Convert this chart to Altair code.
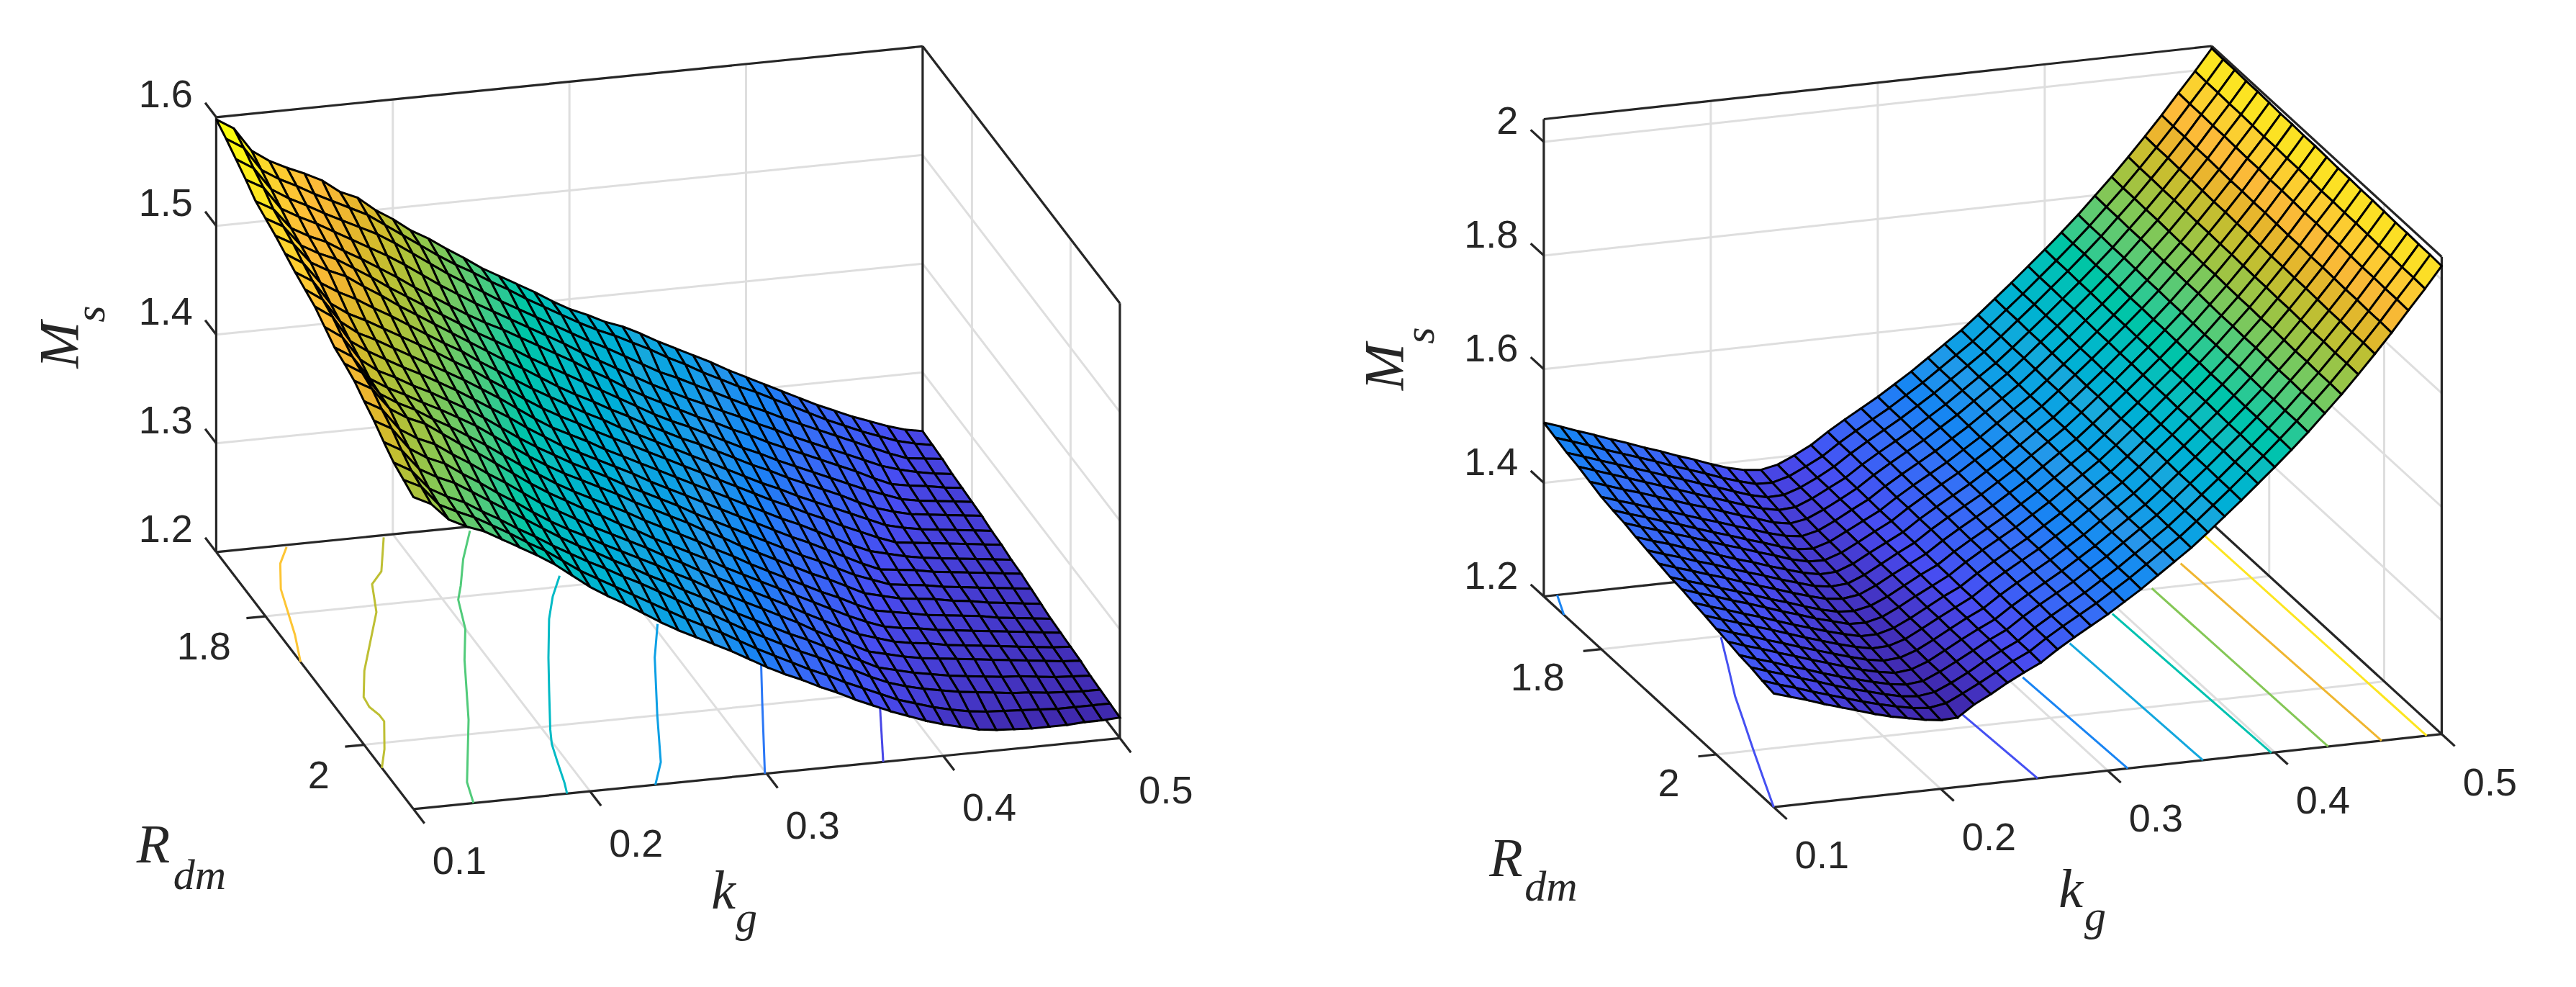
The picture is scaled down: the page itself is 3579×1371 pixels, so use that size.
import altair as alt
import pandas as pd

kg_grid = [0.10, 0.11, 0.12, 0.13, 0.14, 0.15, 0.16, 0.17, 0.18, 0.19, 0.20,
           0.21, 0.22, 0.23, 0.24, 0.25, 0.26, 0.27, 0.28, 0.29, 0.30,
           0.31, 0.32, 0.33, 0.34, 0.35, 0.36, 0.37, 0.38, 0.39, 0.40,
           0.41, 0.42, 0.43, 0.44, 0.45, 0.46, 0.47, 0.48, 0.49, 0.50]
rdm_grid = [1.70, 1.72, 1.74, 1.76, 1.78, 1.80, 1.82, 1.84, 1.86, 1.88, 1.90,
            1.92, 1.94, 1.96, 1.98, 2.00, 2.02, 2.04, 2.06, 2.08, 2.10]

# one row per Rdm, one column per kg
ms_left = [
    [1.598, 1.588, 1.566, 1.555, 1.547, 1.540, 1.532, 1.520, 1.513, 1.500, 1.490, 1.478, 1.469, 1.458, 1.448, 1.437, 1.428, 1.419, 1.410, 1.400, 1.391, 1.384, 1.376, 1.370, 1.362, 1.353, 1.345, 1.337, 1.329, 1.320, 1.312, 1.304, 1.296, 1.288, 1.280, 1.273, 1.266, 1.260, 1.254, 1.249, 1.246],
    [1.592, 1.582, 1.560, 1.550, 1.542, 1.533, 1.525, 1.517, 1.509, 1.498, 1.487, 1.476, 1.465, 1.455, 1.446, 1.436, 1.427, 1.417, 1.408, 1.399, 1.390, 1.382, 1.375, 1.367, 1.359, 1.350, 1.342, 1.333, 1.325, 1.317, 1.310, 1.302, 1.294, 1.286, 1.278, 1.271, 1.264, 1.258, 1.252, 1.248, 1.245],
    [1.585, 1.575, 1.554, 1.544, 1.536, 1.527, 1.519, 1.511, 1.503, 1.493, 1.482, 1.471, 1.460, 1.450, 1.440, 1.430, 1.421, 1.412, 1.403, 1.394, 1.385, 1.377, 1.368, 1.359, 1.350, 1.343, 1.335, 1.327, 1.319, 1.311, 1.304, 1.296, 1.289, 1.282, 1.275, 1.268, 1.261, 1.254, 1.248, 1.246, 1.244],
    [1.578, 1.569, 1.548, 1.539, 1.531, 1.522, 1.513, 1.504, 1.495, 1.485, 1.474, 1.463, 1.453, 1.443, 1.434, 1.425, 1.416, 1.407, 1.398, 1.388, 1.379, 1.370, 1.361, 1.352, 1.344, 1.336, 1.329, 1.321, 1.314, 1.306, 1.299, 1.291, 1.284, 1.277, 1.270, 1.263, 1.256, 1.251, 1.247, 1.244, 1.242],
    [1.570, 1.561, 1.542, 1.533, 1.526, 1.516, 1.507, 1.497, 1.487, 1.476, 1.466, 1.456, 1.446, 1.437, 1.429, 1.420, 1.411, 1.402, 1.393, 1.383, 1.374, 1.364, 1.355, 1.347, 1.339, 1.331, 1.324, 1.316, 1.309, 1.301, 1.294, 1.287, 1.280, 1.273, 1.266, 1.258, 1.251, 1.248, 1.246, 1.243, 1.241],
    [1.566, 1.557, 1.538, 1.529, 1.522, 1.512, 1.502, 1.491, 1.481, 1.471, 1.461, 1.451, 1.441, 1.432, 1.423, 1.413, 1.404, 1.395, 1.386, 1.377, 1.368, 1.359, 1.350, 1.342, 1.335, 1.327, 1.319, 1.311, 1.304, 1.296, 1.289, 1.282, 1.275, 1.268, 1.261, 1.255, 1.249, 1.246, 1.244, 1.242, 1.240],
    [1.562, 1.553, 1.534, 1.525, 1.518, 1.507, 1.497, 1.486, 1.476, 1.466, 1.456, 1.446, 1.436, 1.426, 1.417, 1.407, 1.397, 1.388, 1.380, 1.371, 1.363, 1.354, 1.346, 1.338, 1.331, 1.323, 1.315, 1.307, 1.300, 1.292, 1.285, 1.278, 1.271, 1.263, 1.256, 1.251, 1.247, 1.245, 1.243, 1.241, 1.239],
    [1.557, 1.547, 1.527, 1.517, 1.509, 1.499, 1.490, 1.480, 1.470, 1.460, 1.451, 1.440, 1.430, 1.420, 1.410, 1.401, 1.392, 1.383, 1.375, 1.366, 1.358, 1.350, 1.342, 1.334, 1.326, 1.318, 1.310, 1.302, 1.295, 1.287, 1.280, 1.273, 1.266, 1.259, 1.252, 1.248, 1.245, 1.243, 1.241, 1.239, 1.237],
    [1.552, 1.542, 1.520, 1.509, 1.501, 1.492, 1.483, 1.474, 1.465, 1.455, 1.446, 1.435, 1.425, 1.414, 1.404, 1.395, 1.387, 1.378, 1.370, 1.362, 1.354, 1.346, 1.338, 1.330, 1.322, 1.314, 1.306, 1.298, 1.291, 1.283, 1.276, 1.268, 1.261, 1.254, 1.248, 1.246, 1.244, 1.242, 1.240, 1.238, 1.236],
    [1.548, 1.537, 1.515, 1.503, 1.495, 1.486, 1.477, 1.468, 1.459, 1.450, 1.440, 1.430, 1.419, 1.408, 1.398, 1.390, 1.382, 1.373, 1.365, 1.357, 1.349, 1.341, 1.333, 1.325, 1.317, 1.309, 1.301, 1.293, 1.286, 1.278, 1.270, 1.262, 1.255, 1.251, 1.247, 1.244, 1.242, 1.240, 1.238, 1.236, 1.234],
    [1.544, 1.533, 1.509, 1.498, 1.489, 1.480, 1.472, 1.463, 1.454, 1.444, 1.434, 1.424, 1.413, 1.403, 1.393, 1.385, 1.377, 1.369, 1.361, 1.352, 1.344, 1.336, 1.328, 1.320, 1.312, 1.304, 1.296, 1.288, 1.281, 1.273, 1.265, 1.257, 1.250, 1.248, 1.246, 1.243, 1.241, 1.239, 1.237, 1.235, 1.233],
    [1.537, 1.526, 1.504, 1.492, 1.484, 1.475, 1.467, 1.458, 1.449, 1.439, 1.428, 1.417, 1.407, 1.398, 1.389, 1.381, 1.373, 1.364, 1.356, 1.348, 1.340, 1.331, 1.323, 1.315, 1.307, 1.299, 1.291, 1.283, 1.276, 1.268, 1.260, 1.254, 1.248, 1.246, 1.244, 1.241, 1.239, 1.237, 1.235, 1.233, 1.231],
    [1.530, 1.520, 1.498, 1.488, 1.480, 1.471, 1.463, 1.454, 1.445, 1.434, 1.423, 1.412, 1.402, 1.393, 1.385, 1.377, 1.369, 1.360, 1.352, 1.344, 1.336, 1.327, 1.319, 1.310, 1.302, 1.294, 1.286, 1.278, 1.271, 1.263, 1.255, 1.251, 1.247, 1.245, 1.243, 1.240, 1.238, 1.235, 1.233, 1.231, 1.229],
    [1.527, 1.517, 1.496, 1.486, 1.478, 1.468, 1.459, 1.449, 1.439, 1.428, 1.417, 1.407, 1.397, 1.388, 1.380, 1.372, 1.364, 1.355, 1.347, 1.339, 1.331, 1.322, 1.314, 1.305, 1.297, 1.289, 1.281, 1.273, 1.266, 1.258, 1.251, 1.248, 1.245, 1.242, 1.240, 1.238, 1.236, 1.233, 1.231, 1.229, 1.227],
    [1.523, 1.514, 1.494, 1.484, 1.477, 1.466, 1.455, 1.445, 1.434, 1.423, 1.412, 1.402, 1.393, 1.384, 1.376, 1.367, 1.359, 1.350, 1.342, 1.334, 1.326, 1.317, 1.309, 1.301, 1.293, 1.285, 1.277, 1.269, 1.261, 1.254, 1.248, 1.245, 1.243, 1.240, 1.238, 1.236, 1.234, 1.232, 1.230, 1.228, 1.226],
    [1.516, 1.507, 1.487, 1.477, 1.470, 1.459, 1.449, 1.438, 1.428, 1.417, 1.406, 1.397, 1.388, 1.379, 1.371, 1.363, 1.355, 1.346, 1.338, 1.329, 1.321, 1.313, 1.305, 1.297, 1.289, 1.280, 1.272, 1.264, 1.256, 1.251, 1.246, 1.243, 1.241, 1.238, 1.236, 1.234, 1.232, 1.230, 1.228, 1.226, 1.225],
    [1.510, 1.501, 1.481, 1.471, 1.464, 1.453, 1.443, 1.432, 1.422, 1.411, 1.401, 1.392, 1.384, 1.375, 1.367, 1.359, 1.351, 1.342, 1.334, 1.325, 1.317, 1.309, 1.301, 1.293, 1.285, 1.276, 1.268, 1.260, 1.252, 1.248, 1.244, 1.241, 1.239, 1.237, 1.235, 1.233, 1.231, 1.229, 1.227, 1.225, 1.224],
    [1.502, 1.493, 1.474, 1.465, 1.458, 1.448, 1.438, 1.428, 1.418, 1.408, 1.398, 1.389, 1.381, 1.372, 1.364, 1.355, 1.347, 1.338, 1.330, 1.321, 1.312, 1.304, 1.296, 1.288, 1.281, 1.273, 1.265, 1.257, 1.249, 1.245, 1.241, 1.238, 1.235, 1.233, 1.231, 1.229, 1.228, 1.226, 1.224, 1.223, 1.222],
    [1.495, 1.486, 1.468, 1.459, 1.452, 1.442, 1.433, 1.423, 1.414, 1.404, 1.395, 1.386, 1.378, 1.369, 1.361, 1.352, 1.343, 1.334, 1.326, 1.317, 1.308, 1.300, 1.292, 1.284, 1.277, 1.269, 1.262, 1.254, 1.247, 1.242, 1.238, 1.235, 1.232, 1.230, 1.228, 1.226, 1.225, 1.223, 1.222, 1.221, 1.221],
    [1.491, 1.483, 1.465, 1.457, 1.450, 1.441, 1.432, 1.422, 1.413, 1.402, 1.391, 1.382, 1.373, 1.364, 1.355, 1.346, 1.337, 1.329, 1.321, 1.312, 1.303, 1.295, 1.287, 1.279, 1.272, 1.264, 1.257, 1.250, 1.243, 1.238, 1.233, 1.229, 1.226, 1.224, 1.223, 1.222, 1.221, 1.220, 1.220, 1.220, 1.220],
    [1.487, 1.479, 1.463, 1.455, 1.449, 1.440, 1.431, 1.422, 1.412, 1.400, 1.388, 1.378, 1.369, 1.359, 1.349, 1.340, 1.332, 1.324, 1.316, 1.307, 1.298, 1.290, 1.283, 1.275, 1.268, 1.260, 1.253, 1.246, 1.240, 1.234, 1.229, 1.225, 1.221, 1.219, 1.218, 1.217, 1.217, 1.217, 1.218, 1.218, 1.219],
]

ms_right = [
    [1.506, 1.496, 1.485, 1.475, 1.464, 1.454, 1.443, 1.433, 1.422, 1.412, 1.401, 1.391, 1.384, 1.381, 1.387, 1.400, 1.415, 1.435, 1.453, 1.470, 1.487, 1.506, 1.525, 1.546, 1.567, 1.588, 1.612, 1.637, 1.662, 1.688, 1.714, 1.741, 1.769, 1.799, 1.829, 1.861, 1.894, 1.928, 1.964, 1.999, 2.036],
    [1.498, 1.488, 1.478, 1.467, 1.457, 1.447, 1.437, 1.426, 1.416, 1.406, 1.395, 1.386, 1.378, 1.377, 1.385, 1.399, 1.414, 1.434, 1.452, 1.469, 1.486, 1.505, 1.524, 1.545, 1.566, 1.587, 1.611, 1.636, 1.661, 1.687, 1.713, 1.740, 1.768, 1.798, 1.828, 1.860, 1.893, 1.927, 1.963, 1.998, 2.035],
    [1.490, 1.480, 1.470, 1.460, 1.450, 1.440, 1.430, 1.420, 1.410, 1.400, 1.390, 1.380, 1.373, 1.374, 1.384, 1.398, 1.414, 1.434, 1.452, 1.469, 1.486, 1.505, 1.524, 1.545, 1.566, 1.587, 1.611, 1.636, 1.661, 1.687, 1.713, 1.740, 1.768, 1.798, 1.828, 1.860, 1.893, 1.927, 1.963, 1.998, 2.035],
    [1.484, 1.474, 1.464, 1.454, 1.444, 1.434, 1.424, 1.414, 1.404, 1.394, 1.384, 1.375, 1.369, 1.371, 1.383, 1.398, 1.413, 1.433, 1.451, 1.468, 1.485, 1.504, 1.523, 1.544, 1.565, 1.586, 1.610, 1.635, 1.660, 1.686, 1.712, 1.739, 1.767, 1.797, 1.827, 1.859, 1.892, 1.926, 1.962, 1.997, 2.034],
    [1.476, 1.466, 1.456, 1.447, 1.437, 1.427, 1.417, 1.408, 1.398, 1.388, 1.379, 1.369, 1.364, 1.369, 1.382, 1.397, 1.413, 1.433, 1.451, 1.468, 1.485, 1.504, 1.523, 1.544, 1.565, 1.586, 1.610, 1.635, 1.660, 1.686, 1.712, 1.739, 1.767, 1.797, 1.827, 1.859, 1.892, 1.926, 1.962, 1.997, 2.034],
    [1.468, 1.458, 1.449, 1.439, 1.430, 1.420, 1.410, 1.401, 1.391, 1.382, 1.372, 1.364, 1.360, 1.367, 1.381, 1.397, 1.412, 1.432, 1.450, 1.467, 1.484, 1.503, 1.522, 1.543, 1.564, 1.585, 1.609, 1.634, 1.659, 1.685, 1.711, 1.738, 1.766, 1.796, 1.826, 1.858, 1.891, 1.925, 1.961, 1.996, 2.033],
    [1.463, 1.453, 1.444, 1.434, 1.425, 1.415, 1.405, 1.396, 1.386, 1.377, 1.367, 1.359, 1.357, 1.366, 1.381, 1.396, 1.411, 1.431, 1.449, 1.466, 1.483, 1.502, 1.521, 1.542, 1.563, 1.584, 1.608, 1.633, 1.658, 1.684, 1.710, 1.737, 1.765, 1.795, 1.825, 1.857, 1.890, 1.924, 1.960, 1.995, 2.032],
    [1.459, 1.449, 1.440, 1.430, 1.421, 1.411, 1.401, 1.392, 1.382, 1.373, 1.363, 1.356, 1.355, 1.365, 1.380, 1.396, 1.411, 1.431, 1.449, 1.466, 1.483, 1.502, 1.521, 1.542, 1.563, 1.584, 1.608, 1.633, 1.658, 1.684, 1.710, 1.737, 1.765, 1.795, 1.825, 1.857, 1.890, 1.924, 1.960, 1.995, 2.032],
    [1.453, 1.443, 1.434, 1.424, 1.415, 1.405, 1.395, 1.386, 1.376, 1.367, 1.358, 1.352, 1.353, 1.364, 1.380, 1.395, 1.410, 1.430, 1.448, 1.465, 1.482, 1.501, 1.520, 1.541, 1.562, 1.583, 1.607, 1.632, 1.657, 1.683, 1.709, 1.736, 1.764, 1.794, 1.824, 1.856, 1.889, 1.923, 1.959, 1.994, 2.031],
    [1.448, 1.438, 1.429, 1.419, 1.410, 1.400, 1.390, 1.381, 1.371, 1.362, 1.353, 1.349, 1.351, 1.363, 1.379, 1.395, 1.410, 1.430, 1.448, 1.465, 1.482, 1.501, 1.520, 1.541, 1.562, 1.583, 1.607, 1.632, 1.657, 1.683, 1.709, 1.736, 1.764, 1.794, 1.824, 1.856, 1.889, 1.923, 1.959, 1.994, 2.031],
    [1.443, 1.433, 1.424, 1.414, 1.405, 1.395, 1.385, 1.376, 1.366, 1.357, 1.349, 1.346, 1.350, 1.363, 1.379, 1.394, 1.409, 1.429, 1.447, 1.464, 1.481, 1.500, 1.519, 1.540, 1.561, 1.582, 1.606, 1.631, 1.656, 1.682, 1.708, 1.735, 1.763, 1.793, 1.823, 1.855, 1.888, 1.922, 1.958, 1.993, 2.030],
    [1.438, 1.428, 1.419, 1.409, 1.400, 1.390, 1.380, 1.371, 1.361, 1.352, 1.345, 1.343, 1.349, 1.362, 1.378, 1.394, 1.408, 1.428, 1.446, 1.463, 1.480, 1.499, 1.518, 1.539, 1.560, 1.581, 1.605, 1.630, 1.655, 1.681, 1.707, 1.734, 1.762, 1.792, 1.822, 1.854, 1.887, 1.921, 1.957, 1.992, 2.029],
    [1.435, 1.425, 1.416, 1.406, 1.397, 1.387, 1.377, 1.368, 1.358, 1.350, 1.342, 1.341, 1.348, 1.362, 1.378, 1.393, 1.408, 1.428, 1.446, 1.463, 1.480, 1.499, 1.518, 1.539, 1.560, 1.581, 1.605, 1.630, 1.655, 1.681, 1.707, 1.734, 1.762, 1.792, 1.822, 1.854, 1.887, 1.921, 1.957, 1.992, 2.029],
    [1.430, 1.420, 1.411, 1.401, 1.392, 1.382, 1.372, 1.363, 1.354, 1.346, 1.339, 1.339, 1.347, 1.361, 1.377, 1.393, 1.407, 1.427, 1.445, 1.462, 1.479, 1.498, 1.517, 1.538, 1.559, 1.580, 1.604, 1.629, 1.654, 1.680, 1.706, 1.733, 1.761, 1.791, 1.821, 1.853, 1.886, 1.920, 1.956, 1.991, 2.028],
    [1.426, 1.416, 1.407, 1.397, 1.388, 1.378, 1.368, 1.359, 1.350, 1.342, 1.336, 1.337, 1.346, 1.361, 1.377, 1.392, 1.407, 1.427, 1.445, 1.462, 1.479, 1.498, 1.517, 1.538, 1.559, 1.580, 1.604, 1.629, 1.654, 1.680, 1.706, 1.733, 1.761, 1.791, 1.821, 1.853, 1.886, 1.920, 1.956, 1.991, 2.028],
    [1.421, 1.411, 1.402, 1.392, 1.383, 1.373, 1.364, 1.355, 1.346, 1.338, 1.333, 1.335, 1.345, 1.360, 1.376, 1.392, 1.406, 1.426, 1.444, 1.461, 1.478, 1.497, 1.516, 1.537, 1.558, 1.579, 1.603, 1.628, 1.653, 1.679, 1.705, 1.732, 1.760, 1.790, 1.820, 1.852, 1.885, 1.919, 1.955, 1.990, 2.027],
    [1.417, 1.407, 1.398, 1.388, 1.379, 1.369, 1.360, 1.351, 1.342, 1.335, 1.330, 1.333, 1.344, 1.360, 1.376, 1.391, 1.405, 1.425, 1.443, 1.460, 1.477, 1.496, 1.515, 1.536, 1.557, 1.578, 1.602, 1.627, 1.652, 1.678, 1.704, 1.731, 1.759, 1.789, 1.819, 1.851, 1.884, 1.918, 1.954, 1.989, 2.026],
    [1.412, 1.402, 1.393, 1.383, 1.374, 1.364, 1.355, 1.347, 1.339, 1.332, 1.328, 1.331, 1.344, 1.359, 1.375, 1.391, 1.405, 1.425, 1.443, 1.460, 1.477, 1.496, 1.515, 1.536, 1.557, 1.578, 1.602, 1.627, 1.652, 1.678, 1.704, 1.731, 1.759, 1.789, 1.819, 1.851, 1.884, 1.918, 1.954, 1.989, 2.026],
    [1.409, 1.399, 1.390, 1.380, 1.371, 1.361, 1.352, 1.344, 1.336, 1.329, 1.326, 1.330, 1.343, 1.358, 1.375, 1.390, 1.404, 1.424, 1.442, 1.459, 1.476, 1.495, 1.514, 1.535, 1.556, 1.577, 1.601, 1.626, 1.651, 1.677, 1.703, 1.730, 1.758, 1.788, 1.818, 1.850, 1.883, 1.917, 1.953, 1.988, 2.025],
    [1.404, 1.394, 1.385, 1.375, 1.366, 1.357, 1.348, 1.340, 1.333, 1.327, 1.324, 1.329, 1.343, 1.358, 1.374, 1.390, 1.404, 1.424, 1.442, 1.459, 1.476, 1.495, 1.514, 1.535, 1.556, 1.577, 1.601, 1.626, 1.651, 1.677, 1.703, 1.730, 1.758, 1.788, 1.818, 1.850, 1.883, 1.917, 1.953, 1.988, 2.025],
    [1.400, 1.391, 1.382, 1.372, 1.363, 1.354, 1.345, 1.337, 1.331, 1.325, 1.321, 1.322, 1.342, 1.357, 1.374, 1.389, 1.403, 1.423, 1.441, 1.458, 1.475, 1.494, 1.513, 1.534, 1.555, 1.576, 1.600, 1.625, 1.650, 1.676, 1.702, 1.729, 1.757, 1.787, 1.817, 1.849, 1.882, 1.916, 1.952, 1.987, 2.024],
]

# floor contours: level, kg points, Rdm points
contours_left = [
    (1.55, [.139, .129, .119, .108, .100], [1.703, 1.726, 1.763, 1.831, 1.871]),
    (1.50, [.194, .179, .169, .160, .130, .119, .118, .120, .120, .109, .100],
     [1.703, 1.752, 1.769, 1.810, 1.893, 1.931, 1.946, 1.959, 1.969, 2.009, 2.036]),
    (1.45, [.242, .227, .215, .208, .200, .187, .165, .139, .134],
     [1.706, 1.746, 1.784, 1.804, 1.847, 1.892, 1.979, 2.069, 2.100]),
    (1.40, [.271, .259, .248, .232, .219, .204, .199, .195, .190, .187],
     [1.784, 1.813, 1.845, 1.901, 1.949, 2.005, 2.026, 2.051, 2.084, 2.100]),
    (1.35, [.303, .288, .266, .249, .237], [1.868, 1.916, 2.000, 2.068, 2.100]),
    (1.30, [.341, .326, .299], [1.942, 1.998, 2.100]),
    (1.25, [.386, .366], [2.022, 2.100]),
]
contours_right = [
    (1.50, [.108, .100], [1.700, 1.735]),
    (1.40, [.171, .158, .144, .134, .123, .112, .100],
     [1.802, 1.852, 1.905, 1.949, 1.997, 2.046, 2.100]),
    (1.40, [.255, .258], [1.978, 2.100]),
    (1.50, [.309, .312], [1.926, 2.100]),
    (1.60, [.354, .357], [1.877, 2.100]),
    (1.70, [.394, .398], [1.835, 2.100]),
    (1.80, [.430, .432], [1.799, 2.100]),
    (1.90, [.460, .464], [1.762, 2.100]),
    (2.00, [.489, .491], [1.718, 2.100]),
]

kg_ticks = [0.1, 0.2, 0.3, 0.4, 0.5]
rdm_ticks = [1.8, 2.0]
rdm_labels = ["1.8", "2"]
ms_ticks_left = [1.2, 1.3, 1.4, 1.5, 1.6]
ms_labels_left = ["1.2", "1.3", "1.4", "1.5", "1.6"]
ms_ticks_right = [1.2, 1.4, 1.6, 1.8, 2.0]
ms_labels_right = ["1.2", "1.4", "1.6", "1.8", "2"]

parula_pos = [0, .1, .2, .3, .4, .5, .6, .7, .8, .85, .9, 1]
parula_stops = ["#3E26A8", "#484CF1", "#366FF6", "#2796EB", "#18A9DC", "#0EBDBE",
                "#45CB82", "#9CC445", "#EBB52E", "#FDBB39", "#FBD12F", "#F9FB0E"]
parula = alt.Scale(domain=parula_pos, range=parula_stops)

# screen geometry of the two 3D boxes
view_left = dict(origin=(300.4, 766.8), ex=(981.5, -98.5), ey=(274.0, 357.0),
                 height=604.0, zmin=1.2, zmax=1.6, z_off=(-32.5, -29.5), r_off=(-48, 44),
                 k_off=(64, 74.5), tick_z=0.056, tick_r=0.027, tick_k=0.056)
view_right = dict(origin=(2144.9, 828.5), ex=(928.0, -101.5), ey=(319.5, 292.7),
                  height=663.0, zmin=1.2, zmax=2.04, z_off=(-35.5, -27), r_off=(-51, 41.5),
                  k_off=(67, 69), tick_z=0.057, tick_r=0.027, tick_k=0.057)


def project(view, kg, rdm, ms):
    f = (kg - 0.1) / 0.4
    g = (rdm - 1.7) / 0.4
    h = (ms - view["zmin"]) / (view["zmax"] - view["zmin"])
    return (
        view["origin"][0] + f * view["ex"][0] + g * view["ey"][0],
        view["origin"][1] + f * view["ex"][1] + g * view["ey"][1] - h * view["height"],
    )


def surface_rows(view, table, prefix):
    lo = min(min(row) for row in table)
    hi = max(max(row) for row in table)
    cells = []
    for j in range(len(rdm_grid) - 1):
        for i in range(len(kg_grid) - 1):
            depth = project(view, kg_grid[i], rdm_grid[j], view["zmin"])[1]
            cells.append((depth, i, j))
    cells.sort()
    rows = []
    for n, (_, i, j) in enumerate(cells):
        corners = [(i, j), (i + 1, j), (i + 1, j + 1), (i, j + 1), (i, j)]
        for k, (a, b) in enumerate(corners):
            px, py = project(view, kg_grid[a], rdm_grid[b], table[b][a])
            rows.append({"cell": f"{prefix}{n:04d}", "k": k, "px": px, "py": py,
                         "t": (table[j][i] - lo) / (hi - lo)})
    return rows, lo, hi


def contour_rows(view, contours, lo, hi, prefix):
    rows = []
    for n, (level, kgs, rdms) in enumerate(contours):
        for k, (a, b) in enumerate(zip(kgs, rdms)):
            px, py = project(view, a, b, view["zmin"])
            rows.append({"seg": f"{prefix}{n}", "k": k, "px": px, "py": py, "t": (level - lo) / (hi - lo)})
    return rows


def segment(rows, name, p, q):
    rows.append({"seg": name, "k": 0, "px": p[0], "py": p[1]})
    rows.append({"seg": name, "k": 1, "px": q[0], "py": q[1]})


def frame_rows(view, ms_ticks, prefix):
    grid, box = [], []
    z0, z1 = view["zmin"], view["zmax"]
    for v in kg_ticks[1:-1]:
        segment(grid, f"{prefix}a{v}", project(view, v, 1.7, z0), project(view, v, 1.7, z1))
    for v in kg_ticks[1:-1]:
        segment(grid, f"{prefix}b{v}", project(view, v, 1.7, z0), project(view, v, 2.1, z0))
    for v in rdm_ticks:
        segment(grid, f"{prefix}c{v}", project(view, 0.5, v, z0), project(view, 0.5, v, z1))
        segment(grid, f"{prefix}d{v}", project(view, 0.1, v, z0), project(view, 0.5, v, z0))
    for v in ms_ticks:
        segment(grid, f"{prefix}e{v}", project(view, 0.1, 1.7, v), project(view, 0.5, 1.7, v))
        segment(grid, f"{prefix}f{v}", project(view, 0.5, 1.7, v), project(view, 0.5, 2.1, v))
    edges = [
        ((0.1, 1.7, z0), (0.1, 1.7, z1)), ((0.1, 1.7, z1), (0.5, 1.7, z1)),
        ((0.5, 1.7, z0), (0.5, 1.7, z1)), ((0.5, 1.7, z1), (0.5, 2.1, z1)),
        ((0.5, 2.1, z0), (0.5, 2.1, z1)), ((0.1, 1.7, z0), (0.1, 2.1, z0)),
        ((0.1, 2.1, z0), (0.5, 2.1, z0)), ((0.1, 1.7, z0), (0.5, 1.7, z0)),
        ((0.5, 1.7, z0), (0.5, 2.1, z0)),
    ]
    for n, (p, q) in enumerate(edges):
        segment(box, f"{prefix}g{n}", project(view, *p), project(view, *q))
    ex, ey = view["ex"], view["ey"]
    for v in ms_ticks:
        p = project(view, 0.1, 1.7, v)
        d = view["tick_z"]
        segment(box, f"{prefix}h{v}", p, (p[0] - d * ey[0], p[1] - d * ey[1]))
    for v in rdm_ticks:
        p = project(view, 0.1, v, z0)
        d = view["tick_r"]
        segment(box, f"{prefix}i{v}", p, (p[0] - d * ex[0], p[1] - d * ex[1]))
    for v in kg_ticks:
        p = project(view, v, 2.1, z0)
        d = view["tick_k"]
        segment(box, f"{prefix}j{v}", p, (p[0] + d * ey[0], p[1] + d * ey[1]))
    return grid, box


def label_rows(view, ms_ticks, ms_labels):
    right, center = [], []
    z0 = view["zmin"]
    for v, s in zip(ms_ticks, ms_labels):
        p = project(view, 0.1, 1.7, v)
        right.append({"px": p[0] + view["z_off"][0], "py": p[1] + view["z_off"][1], "label": s})
    for v, s in zip(rdm_ticks, rdm_labels):
        p = project(view, 0.1, v, z0)
        right.append({"px": p[0] + view["r_off"][0], "py": p[1] + view["r_off"][1], "label": s})
    for v in kg_ticks:
        p = project(view, v, 2.1, z0)
        center.append({"px": p[0] + view["k_off"][0], "py": p[1] + view["k_off"][1], "label": f"{v:.1f}"})
    return right, center


surf_l, lo_l, hi_l = surface_rows(view_left, ms_left, "L")
surf_r, lo_r, hi_r = surface_rows(view_right, ms_right, "R")
cont = contour_rows(view_left, contours_left, lo_l, hi_l, "L") + contour_rows(view_right, contours_right, lo_r, hi_r, "R")
grid_l, box_l = frame_rows(view_left, ms_ticks_left, "L")
grid_r, box_r = frame_rows(view_right, ms_ticks_right, "R")
right_l, center_l = label_rows(view_left, ms_ticks_left, ms_labels_left)
right_r, center_r = label_rows(view_right, ms_ticks_right, ms_labels_right)

# italic axis names, placed by eye
titles_main = pd.DataFrame({
    "px": [213, 1005, 2092.5, 2877],
    "py": [1175, 1239, 1193.5, 1237],
    "label": ["R", "k", "R", "k"],
})
titles_sub = pd.DataFrame({
    "px": [277.5, 1037, 2155, 2911],
    "py": [1217, 1276, 1233, 1274],
    "label": ["dm", "g", "dm", "g"],
})
titles_ms = pd.DataFrame({"px": [84.6, 1926], "py": [479, 509.5], "label": ["M", "M"]})
titles_ms_sub = pd.DataFrame({"px": [127, 1974], "py": [436, 466], "label": ["s", "s"]})

X = alt.X("px:Q", scale=alt.Scale(domain=[8, 3571]), axis=None)
Y = alt.Y("py:Q", scale=alt.Scale(domain=[1363, 8]), axis=None)


def lines(rows, color, width):
    return (
        alt.Chart(pd.DataFrame(rows))
        .mark_line(color=color, strokeWidth=width)
        .encode(x=X, y=Y, detail="seg:N", order="k:Q")
    )


def texts(df, align, font="Liberation Sans", size=54, style="normal", angle=0):
    return (
        alt.Chart(pd.DataFrame(df))
        .mark_text(font=font, fontSize=size, fontStyle=style, color="#262626", align=align,
                   baseline="middle", angle=angle)
        .encode(x=X, y=Y, text="label:N")
    )


contour_layer = (
    alt.Chart(pd.DataFrame(cont))
    .mark_line(strokeWidth=3)
    .encode(x=X, y=Y, detail="seg:N", order="k:Q", stroke=alt.Stroke("t:Q", scale=parula, legend=None))
)

surface_layer = (
    alt.Chart(pd.DataFrame(surf_l + surf_r))
    .mark_line(stroke="#000000", strokeWidth=3)
    .encode(x=X, y=Y, detail="cell:N", order="k:Q", fill=alt.Fill("t:Q", scale=parula, legend=None))
)

chart = (
    alt.layer(
        lines(grid_l + grid_r, "#DEDEDE", 3),
        lines(box_l + box_r, "#262626", 3.2),
        contour_layer,
        surface_layer,
        texts(right_l + right_r, "right"),
        texts(center_l + center_r, "center"),
        texts(titles_main, "center", "Liberation Serif", 76, "italic"),
        texts(titles_sub, "center", "Liberation Serif", 60, "italic"),
        texts(titles_ms, "center", "Liberation Serif", 78, "italic", 270),
        texts(titles_ms_sub, "center", "Liberation Serif", 60, "italic", 270),
    )
    .properties(width=3563, height=1355, padding=0, autosize=alt.AutoSizeParams(type="none"))
    .configure_view(strokeWidth=0)
)

chart.save("out.html", embed_options={"renderer": "svg", "actions": False})
